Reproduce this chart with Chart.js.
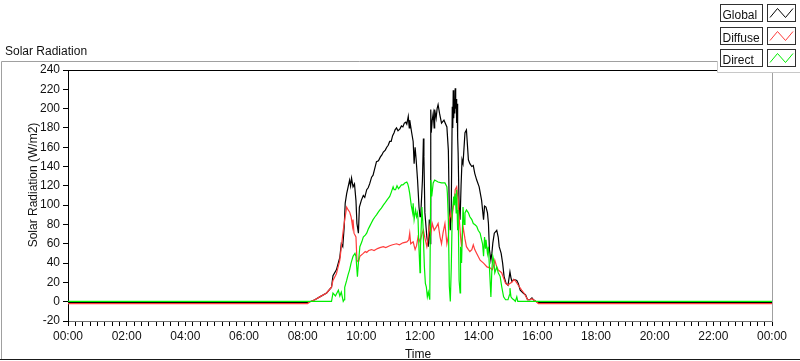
<!DOCTYPE html>
<html>
<head>
<meta charset="utf-8">
<script src="https://cdn.jsdelivr.net/npm/chart.js@4.4.0/dist/chart.umd.min.js"></script>
<style>
  html, body { margin: 0; padding: 0; background: #fff; }
  #wrap { position: relative; width: 800px; height: 361px; }
</style>
</head>
<body>
<div id="wrap"><canvas id="solarChart" width="800" height="361"></canvas></div>
<script>
// time of day in minutes, values in W/m2
const globalTimes = [0, 490, 495, 505, 515, 529, 539, 542, 549, 556, 559, 562, 565, 567, 570, 573, 576, 578, 580, 583, 586, 589, 591, 594, 596, 600, 604, 607, 611, 614, 617, 621, 624, 627, 631, 635, 639, 642, 645, 649, 652, 655, 658, 661, 664, 667, 669, 672, 675, 679, 682, 685, 688, 691, 693, 696, 698, 699, 703, 706, 708, 710, 712, 715, 718, 720, 722, 725, 727, 728, 730, 734, 737, 739, 741, 742, 743, 745, 747, 749, 750, 753, 755, 757, 760, 764, 769, 775, 778, 780, 782, 784, 786, 787, 788, 789, 790, 791, 792, 793, 794, 795, 796, 797, 798, 800, 802, 804, 806, 808, 812, 815, 819, 822, 826, 829, 832, 836, 841, 846, 848, 850, 852, 855, 858, 860, 862, 865, 867, 869, 872, 877, 880, 882, 886, 889, 892, 896, 900, 904, 906, 908, 912, 918, 921, 925, 931, 936, 940, 945, 949, 952, 958, 962, 1440];
const globalValues = [-0.8, -0.8, 0, 2, 5, 9, 15, 27, 33, 46, 60, 57, 78, 102, 112, 119, 126, 120, 128, 119, 122, 105, 81, 71, 98, 105, 110, 108, 116, 118, 122, 129, 131, 137, 145, 146, 150, 152, 155, 157, 160, 162, 166, 166, 172, 175, 178, 180, 177, 179, 182, 181, 185, 186, 184, 192, 180, 188, 175, 166, 143, 160, 148, 126, 98, 88, 95, 126, 169, 150, 92, 67, 57, 85, 60, 199, 175, 188, 195, 180, 199, 190, 200, 204, 195, 185, 188, 181, 157, 92, 74, 100, 202, 180, 219, 190, 210, 195, 221, 200, 210, 185, 205, 170, 154, 98, 85, 120, 147, 143, 175, 178, 147, 143, 140, 141, 133, 126, 119, 105, 95, 85, 99, 98, 92, 81, 54, 43, 50, 61, 71, 74, 67, 57, 50, 40, 26, 19, 17, 31, 25, 21, 23, 22, 19, 12, 9, 7, 2, 2, 4, 2, 0, -0.8, -0.8];

const diffuseTimes = [0, 490, 495, 505, 515, 529, 539, 542, 549, 556, 563, 566, 570, 573, 576, 579, 582, 583, 585, 589, 591, 594, 597, 604, 608, 611, 615, 621, 626, 633, 638, 645, 650, 658, 664, 672, 678, 685, 693, 697, 699, 701, 706, 710, 713, 716, 720, 724, 727, 730, 734, 737, 739, 742, 745, 749, 754, 757, 761, 764, 767, 771, 775, 778, 780, 782, 785, 788, 790, 792, 795, 798, 800, 803, 805, 808, 812, 815, 819, 822, 826, 829, 832, 836, 843, 850, 857, 863, 868, 870, 873, 877, 880, 887, 895, 900, 904, 908, 912, 916, 921, 928, 934, 940, 945, 949, 952, 958, 962, 1440];
const diffuseValues = [-1.9, -1.9, 0, 2, 5, 9, 15, 22, 29, 43, 74, 85, 98, 95, 93, 88, 78, 85, 71, 67, 43, 41, 47, 50, 52, 51, 53, 54, 53, 55, 56, 57, 56, 58, 59, 60, 59, 61, 62, 64, 71, 60, 62, 54, 58, 67, 62, 70, 74, 66, 57, 68, 78, 70, 81, 74, 78, 81, 67, 60, 71, 81, 60, 68, 85, 92, 85, 98, 102, 116, 119, 105, 88, 67, 57, 78, 65, 57, 54, 52, 54, 59, 54, 50, 43, 40, 36, 35, 33, 36, 43, 36, 33, 30, 19, 17, 19, 20, 23, 21, 17, 12, 8, 2, 2, 3, 2, 0, -1.9, -1.9];

const directTimes = [0, 539, 542, 547, 553, 556, 559, 563, 565, 566, 570, 573, 576, 579, 583, 587, 589, 592, 594, 597, 601, 604, 608, 611, 614, 617, 621, 624, 628, 631, 635, 638, 641, 645, 648, 652, 655, 658, 661, 665, 667, 670, 673, 676, 679, 682, 685, 689, 693, 695, 697, 699, 702, 705, 706, 708, 711, 713, 715, 716, 718, 720, 721, 724, 726, 729, 731, 733, 735, 737, 740, 742, 744, 747, 750, 757, 764, 771, 775, 776, 778, 780, 782, 784, 786, 789, 790, 792, 794, 795, 797, 798, 800, 802, 803, 805, 808, 810, 812, 815, 819, 822, 826, 829, 832, 836, 839, 843, 846, 848, 850, 852, 854, 855, 858, 860, 862, 865, 867, 869, 871, 873, 877, 880, 884, 887, 891, 895, 900, 903, 904, 906, 909, 912, 915, 918, 920, 1440];
const directValues = [0.3, 0.3, 9, 6, 12, 6, 10, 0.3, 2, 15, 22, 28, 33, 40, 47, 50, 47, 26, 40, 57, 62, 67, 69, 71, 75, 78, 82, 85, 88, 90, 93, 95, 97, 100, 102, 105, 107, 109, 113, 119, 116, 116, 120, 117, 119, 121, 121, 123, 124, 122, 118, 112, 100, 92, 102, 85, 95, 88, 92, 85, 54, 30, 57, 98, 80, 36, 19, 15, 5, 10, 2, 126, 109, 123, 126, 124, 123, 123, 119, 112, 85, 16, 0.3, 36, 92, 109, 100, 112, 92, 116, 74, 95, 22, 9, 57, 40, 98, 80, 92, 95, 92, 88, 85, 81, 80, 78, 74, 71, 64, 60, 47, 67, 55, 64, 50, 57, 36, 5, 33, 47, 42, 30, 36, 30, 26, 16, 5, 2, 2, 7, 14, 5, 3, 2, 0.3, 5, 0.3, 0.3];

const seriesNames = ['Global', 'Diffuse', 'Direct'];
const seriesColors = ['#000000', '#ff3c3c', '#00ee00'];

const yMin = -20, yMax = 240, yStep = 20;
const xMin = 0, xMax = 1440, xMinorStep = 15, xLabelStep = 120;

const FONT = '"Liberation Sans", Arial, sans-serif';

function pairs(times, values) {
    return times.map((t, i) => ({ x: t, y: values[i] }));
}

function timeLabel(minutes) {
    const h = Math.floor(minutes / 60) % 24;
    return String(h).padStart(2, '0') + ':00';
}

// panel frame, titles and the legend box drawn around the plot
const panelPlugin = {
    id: 'panel',
    afterDraw(chart) {
        const { ctx, chartArea: a } = chart;
        ctx.save();
        ctx.lineWidth = 1;

        // plot top edge and right edge
        ctx.strokeStyle = '#000';
        ctx.beginPath(); ctx.moveTo(a.left, a.top + 0.5); ctx.lineTo(a.right, a.top + 0.5); ctx.stroke();
        ctx.strokeStyle = '#a0a0a0';
        ctx.beginPath(); ctx.moveTo(a.right + 0.5, a.top); ctx.lineTo(a.right + 0.5, a.bottom + 1); ctx.stroke();

        // outer frame
        ctx.strokeStyle = '#a0a0a0';
        ctx.beginPath();
        ctx.moveTo(717, 61.5); ctx.lineTo(1.5, 61.5); ctx.lineTo(1.5, 360);
        ctx.stroke();
        ctx.strokeStyle = '#1a1a1a';
        ctx.beginPath(); ctx.moveTo(0, 359.5); ctx.lineTo(800, 359.5); ctx.stroke();

        // titles
        ctx.fillStyle = '#111';
        ctx.font = '12px ' + FONT;
        ctx.textBaseline = 'alphabetic';
        ctx.textAlign = 'left';
        ctx.fillText('Solar Radiation', 5, 55);
        ctx.textAlign = 'center';
        ctx.fillText('Time', 418, 358);
        ctx.save();
        ctx.translate(37, 185);
        ctx.rotate(-Math.PI / 2);
        ctx.fillText('Solar Radiation (W/m2)', 0, 0);
        ctx.restore();

        // legend panel covering the top right corner
        ctx.fillStyle = '#fff';
        ctx.fillRect(717, 0, 83, 72);
        ctx.strokeStyle = '#c8c8c8';
        ctx.beginPath(); ctx.moveTo(717.5, 61); ctx.lineTo(717.5, 72.5); ctx.lineTo(800, 72.5); ctx.stroke();

        chart.data.datasets.forEach((ds, i) => {
            const top = 4 + i * 22.7;
            const by = Math.round(top) + 0.5;
            ctx.strokeStyle = '#303030';
            ctx.fillStyle = '#fff';
            ctx.fillRect(721, by, 42, 17);
            ctx.strokeRect(720.5, by, 42, 17);
            ctx.strokeRect(767.5, by, 28, 17);
            ctx.fillStyle = '#111';
            ctx.textAlign = 'left';
            ctx.font = '12px ' + FONT;
            ctx.fillText(ds.label, 722.5, by + 14);
            ctx.strokeStyle = ds.borderColor;
            ctx.beginPath();
            ctx.moveTo(770, by + 13);
            ctx.lineTo(777.5, by + 4);
            ctx.lineTo(785.5, by + 13);
            ctx.lineTo(793, by + 4);
            ctx.stroke();
        });
        ctx.restore();
    }
};

const datasetOf = (label, color, data, order) => ({
    label,
    data,
    borderColor: color,
    backgroundColor: color,
    borderWidth: 1.2,
    pointRadius: 0,
    tension: 0,
    fill: false,
    order
});

new Chart(document.getElementById('solarChart'), {
    type: 'line',
    data: {
        datasets: [
            datasetOf(seriesNames[0], seriesColors[0], pairs(globalTimes, globalValues), 3),
            datasetOf(seriesNames[1], seriesColors[1], pairs(diffuseTimes, diffuseValues), 2),
            datasetOf(seriesNames[2], seriesColors[2], pairs(directTimes, directValues), 1)
        ]
    },
    options: {
        responsive: false,
        animation: false,
        devicePixelRatio: 1,
        layout: { padding: { left: 0, right: 28, top: 70, bottom: 0 } },
        plugins: {
            legend: { display: false },
            tooltip: { enabled: false }
        },
        scales: {
            x: {
                type: 'linear',
                min: xMin,
                max: xMax,
                afterFit: (scale) => { scale.height = 40; },
                grid: { drawOnChartArea: false, drawTicks: true, tickLength: 5, color: '#000' },
                border: { display: true, color: '#707070', width: 1 },
                ticks: {
                    stepSize: xMinorStep,
                    maxTicksLimit: 1000,
                    autoSkip: false,
                    maxRotation: 0,
                    minRotation: 0,
                    padding: 3,
                    color: '#111',
                    font: { family: FONT, size: 12 },
                    callback: (v) => (v % xLabelStep === 0 ? timeLabel(v) : '')
                }
            },
            y: {
                min: yMin,
                max: yMax,
                afterFit: (scale) => { scale.width = 68; },
                grid: { drawOnChartArea: false, drawTicks: true, tickLength: 5, color: '#000' },
                border: { display: true, color: '#000', width: 1 },
                ticks: {
                    stepSize: yStep,
                    padding: 3,
                    color: '#111',
                    font: { family: FONT, size: 12 }
                }
            }
        }
    },
    plugins: [panelPlugin]
});
</script>
</body>
</html>
